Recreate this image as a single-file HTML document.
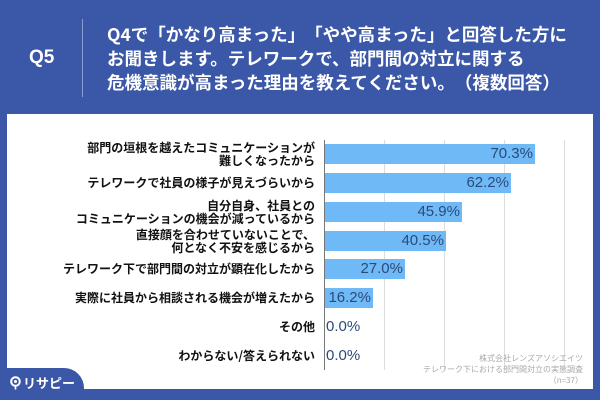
<!DOCTYPE html>
<html>
<head>
<meta charset="utf-8">
<style>
*{margin:0;padding:0;box-sizing:border-box;}
body{width:600px;height:400px;overflow:hidden;background:#3b57a7;position:relative;font-family:"Liberation Sans","Noto Sans CJK JP",sans-serif;text-spacing-trim:space-all;}
.q5{position:absolute;left:29px;top:45px;font-size:19px;font-weight:bold;color:#fff;line-height:26px;}
.sep{position:absolute;left:82px;top:19px;width:1px;height:78px;background:#8b9dcf;}
.title{position:absolute;left:107px;top:23px;font-size:17.5px;font-weight:bold;color:#fff;line-height:24px;white-space:nowrap;font-family:"Noto Sans CJK JP","Liberation Sans",sans-serif;text-spacing-trim:space-all;}
.panel{position:absolute;left:7px;top:114px;width:586px;height:275px;background:#fff;}
.tab{position:absolute;left:0;top:368px;width:84px;height:32px;background:#3b57a7;border-top-right-radius:20px;}
.logo{position:absolute;left:10px;top:375px;color:#fff;font-size:13px;font-weight:bold;font-family:"Noto Sans CJK JP",sans-serif;line-height:16px;}
.lbl{position:absolute;right:285px;font-size:12px;font-weight:bold;color:#111;text-align:right;line-height:12.5px;white-space:nowrap;font-family:"Noto Sans CJK JP","Liberation Sans",sans-serif;}
.bar{position:absolute;left:324px;height:20px;background:#6fb9f7;}
.val{position:absolute;font-size:15px;color:#2b4a7a;line-height:20px;white-space:nowrap;}
.grid{position:absolute;top:140px;width:1px;height:230px;background:#dcdcdc;}
.axis{position:absolute;left:324px;top:140px;width:1px;height:230px;background:#777;}
.src{position:absolute;right:17px;top:353px;font-size:8px;color:#aaa;text-align:right;line-height:11px;font-family:"Noto Sans CJK JP",sans-serif;}
</style>
</head>
<body>
<div class="q5">Q5</div>
<div class="sep"></div>
<div class="title">Q4で「かなり高まった」「やや高まった」と回答した方に<br>お聞きします。テレワークで、部門間の対立に関する<br>危機意識が高まった理由を教えてください。（複数回答）</div>
<div class="panel"></div>

<div class="grid" style="left:384px"></div>
<div class="grid" style="left:444px"></div>
<div class="grid" style="left:504px"></div>
<div class="grid" style="left:564px"></div>

<div class="bar" style="top:144px;width:211px"></div>
<div class="bar" style="top:173px;width:187px"></div>
<div class="bar" style="top:202px;width:138px"></div>
<div class="bar" style="top:231px;width:122px"></div>
<div class="bar" style="top:259px;width:81px"></div>
<div class="bar" style="top:288px;width:49px"></div>
<div class="axis"></div>

<div class="val" style="top:144px;right:67px">70.3%</div>
<div class="val" style="top:173px;right:91px">62.2%</div>
<div class="val" style="top:202px;right:140px">45.9%</div>
<div class="val" style="top:231px;right:156px">40.5%</div>
<div class="val" style="top:259px;right:197px">27.0%</div>
<div class="val" style="top:288px;right:229px">16.2%</div>
<div class="val" style="top:317px;left:326px">0.0%</div>
<div class="val" style="top:346px;left:326px">0.0%</div>

<div class="lbl" style="top:142px">部門の垣根を越えたコミュニケーションが<br>難しくなったから</div>
<div class="lbl" style="top:177px">テレワークで社員の様子が見えづらいから</div>
<div class="lbl" style="top:200px">自分自身、社員との<br>コミュニケーションの機会が減っているから</div>
<div class="lbl" style="top:229px">直接顔を合わせていないことで、<br>何となく不安を感じるから</div>
<div class="lbl" style="top:263px">テレワーク下で部門間の対立が顕在化したから</div>
<div class="lbl" style="top:292px">実際に社員から相談される機会が増えたから</div>
<div class="lbl" style="top:321px">その他</div>
<div class="lbl" style="top:350px">わからない/答えられない</div>

<div class="src">株式会社レンズアソシエイツ<br>テレワーク下における部門間対立の実態調査<br>（n=37）</div>

<div class="tab"></div>
<div class="logo"><svg width="11" height="14" viewBox="0 0 11 14" style="vertical-align:-2px;margin-right:2px"><circle cx="5.5" cy="5.5" r="4.3" fill="none" stroke="#fff" stroke-width="2"/><circle cx="5.5" cy="5.5" r="1.5" fill="#fff"/><rect x="4.7" y="9.5" width="1.6" height="4" fill="#fff"/></svg>リサピー</div>
</body>
</html>
